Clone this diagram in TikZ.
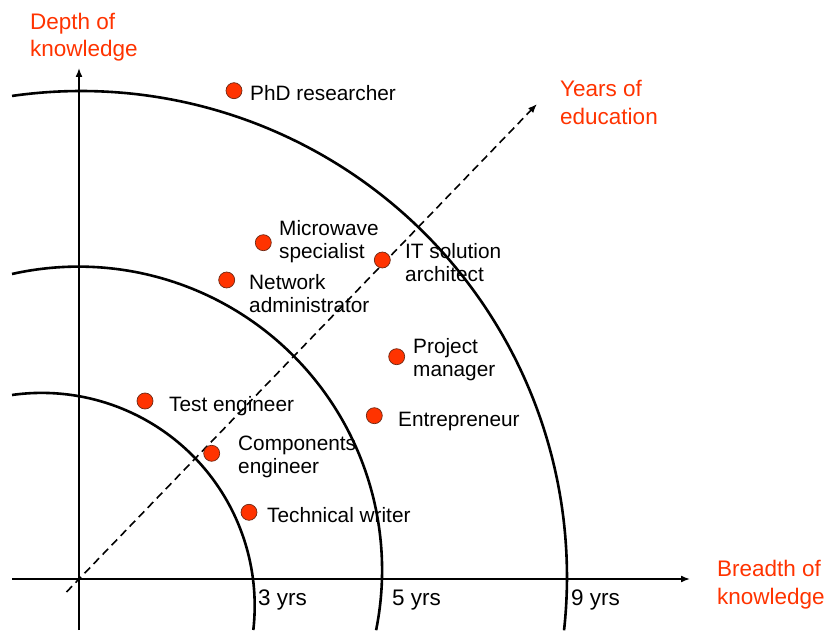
\documentclass[tikz,border=0pt]{standalone}
\usepackage{fontspec}
\setmainfont{Liberation Sans}
\usetikzlibrary{arrows.meta,positioning}
\definecolor{accent}{RGB}{255,51,0}
\definecolor{dotline}{RGB}{110,40,20}

\begin{document}
\begin{tikzpicture}[x=1pt,y=1pt,>={Latex[length=9pt,width=7pt]},
        dot/.style={circle,fill=accent,draw=dotline,line width=0.7pt,inner sep=0pt,minimum size=16pt},
        job/.style={anchor=base west,align=left,inner sep=0pt,font=\fontsize{20.8}{23.8}\selectfont},
        axname/.style={anchor=base west,align=left,inner sep=0pt,text=accent,font=\fontsize{22.5}{27.8}\selectfont},
        yrs/.style={anchor=base west,inner sep=0pt,font=\fontsize{22.5}{27}\selectfont},
        ring/.style={line width=2.6pt}]
        \useasboundingbox (0,0) rectangle (828,630);
        % Axes
        \coordinate (o) at (79,51);
        \coordinate (xs) at (12,51);
        \coordinate (xe) at (690,51);
        \coordinate (ys) at (79,0);
        \coordinate (ye) at (79,562);
        \draw[line width=1.6pt,->] (xs) -- (xe);
        \draw[line width=1.6pt,->] (ys) -- (ye);
        % Education direction
        \coordinate (es) at (66.5,38);
        \coordinate (ee) at (537,526);
        \draw[line width=1.6pt,dash pattern=on 8pt off 5pt,->] (es) -- (ee);
        % Rings of 3, 5 and 9 years
        \foreach \cx/\cy/\r/\a/\b in {41.7/24.1/213/98/-6.5, 78.5/59.8/303.6/102.65/-11.4, 81/53/486/98.16/-6.3}
            \draw[ring] (\cx,\cy) ++(\a:\r) arc[start angle=\a, end angle=\b, radius=\r];
        \foreach \t/\x in {3/258, 5/392, 9/571}
            \node[yrs] (yrs\t) at (\x,25) {\t\ yrs};
        % Axis names (base is the last line)
        \node[axname] (depth) at (30,573) {Depth of\\knowledge};
        \node[axname] (years) at (560,505.5) {Years of\\education};
        \node[axname] (breadth) at (717,26) {Breadth of\\knowledge};
        % Jobs
        \foreach \n/\x/\y in {phd/234/539.3, micro/263.3/387.3, net/226.7/350, it/382.3/370,
                proj/396.7/273.3, test/145/229, entre/374.3/214.3, comp/211.7/176.7, tech/249/117.7}
            \node[dot] (\n) at (\x,\y) {};
        \node[job] (phdtxt) at (250,529) {PhD researcher};
        \node[job] (microtxt) at (279,371) {Microwave\\specialist};
        \node[job] (nettxt) at (249,317) {Network\\administrator};
        \node[job] (ittxt) at (405,348) {IT solution\\architect};
        \node[job] (projtxt) at (413,253) {Project\\manager};
        \node[job] (testtxt) at (169,218) {Test engineer};
        \node[job] (entretxt) at (398,203) {Entrepreneur};
        \node[job] (comptxt) at (238,156) {Components\\engineer};
        \node[job] (techtxt) at (267,107) {Technical writer};
    \end{tikzpicture}
\end{document}
